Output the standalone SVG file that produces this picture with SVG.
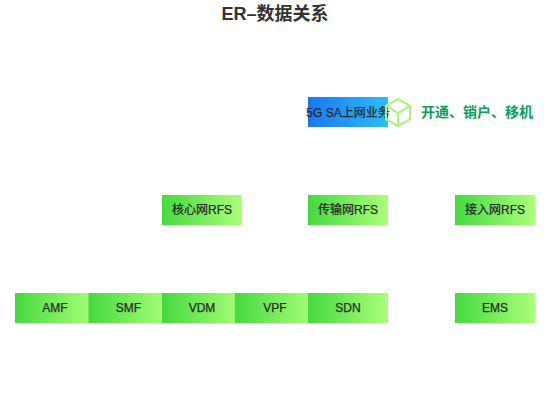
<svg xmlns="http://www.w3.org/2000/svg" width="550" height="420" viewBox="0 0 550 420">
<defs>
<linearGradient id="g" x1="0" y1="0" x2="1" y2="0"><stop offset="0" stop-color="#45d940"/><stop offset="1" stop-color="#abff78"/></linearGradient>
<linearGradient id="b" x1="0" y1="0" x2="1" y2="0"><stop offset="0" stop-color="#1a78f2"/><stop offset="1" stop-color="#2cbcfa"/></linearGradient>
</defs>
<style>
text{font-family:"Liberation Sans","Noto Sans CJK SC",sans-serif;text-anchor:middle;font-size:12px;fill:#2a2a2a;stroke:#2a2a2a;stroke-width:.25px}
.t{font-size:18px;font-weight:700;fill:#333;stroke:none}
.n{fill:url(#g)}
.s{font-size:14px;font-weight:700;fill:#0a9f5a;text-anchor:start;stroke:none}
</style>
<text class="t" x="275" y="20">ER–数据关系</text>
<g id="connectors"/>
<g id="n5g"><rect x="308" y="97" width="80" height="30" fill="url(#b)"/><text x="348" y="116.500">5G SA上网业务</text></g>
<g id="cube" fill="none" stroke="#a8f57a" stroke-width="2"><path d="M398 99 L410 105.500 V119.500 L398 126 L386 119.500 V105.500Z M386.500 106 L398 113 L409.500 106 M398 113 V126"/></g>
<g id="note"><text class="s" x="421" y="117">开通、销户、移机</text></g>
<g id="core"><rect class="n" x="162" y="195" width="80" height="30"/><text x="202" y="214">核心网RFS</text></g>
<g id="trans"><rect class="n" x="308" y="195" width="80" height="30"/><text x="348" y="214">传输网RFS</text></g>
<g id="access"><rect class="n" x="455" y="195" width="80" height="30"/><text x="495" y="214">接入网RFS</text></g>
<g id="amf"><rect class="n" x="15" y="293" width="80" height="30"/><text x="55" y="312">AMF</text></g>
<g id="smf"><rect class="n" x="88.500" y="293" width="80" height="30"/><text x="128.500" y="312">SMF</text></g>
<g id="vdm"><rect class="n" x="162" y="293" width="80" height="30"/><text x="202" y="312">VDM</text></g>
<g id="vpf"><rect class="n" x="235" y="293" width="80" height="30"/><text x="275" y="312">VPF</text></g>
<g id="sdn"><rect class="n" x="308" y="293" width="80" height="30"/><text x="348" y="312">SDN</text></g>
<g id="ems"><rect class="n" x="455" y="293" width="80" height="30"/><text x="495" y="312">EMS</text></g>
</svg>
